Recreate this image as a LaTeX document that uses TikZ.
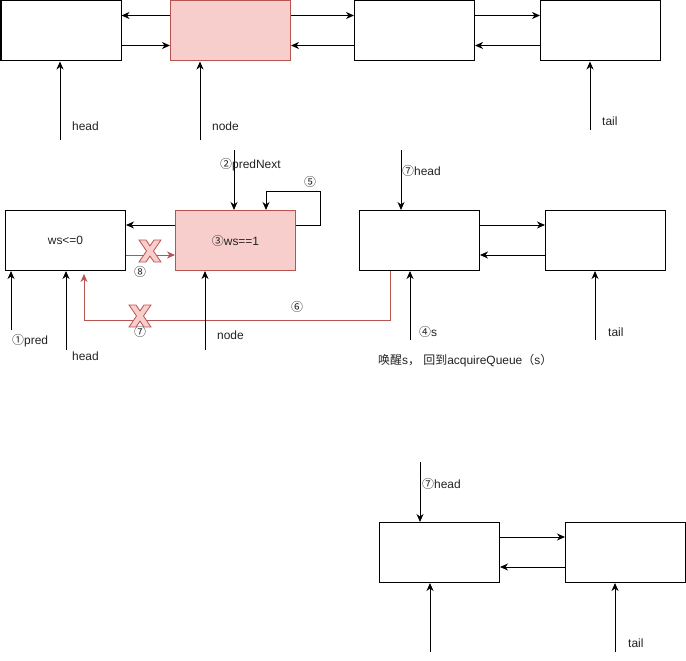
\documentclass[tikz,border=0pt]{standalone}
\usepackage{fontspec}
\setmainfont{Liberation Sans}
\newfontfamily\cjk{Noto Sans CJK SC}
\usetikzlibrary{arrows.meta}
\definecolor{rfill}{HTML}{F8CECC}
\definecolor{rline}{HTML}{B85450}
\definecolor{txt}{HTML}{222222}
\begin{document}
\begin{tikzpicture}[x=1bp,y=-1bp,
  font=\fontsize{12}{14}\selectfont,
  box/.style={draw,line width=1bp,minimum width=120bp,minimum height=60bp,inner sep=0,anchor=north west,text=txt},
  redbox/.style={box,draw=rline,fill=rfill},
  arr/.style={line width=1bp,-{Stealth[length=8bp,width=7bp,inset=2.5bp]}},
  rarr/.style={arr,draw=rline,color=rline},
  lbl/.style={inner sep=0,anchor=west,text=txt},
  num/.style={inner sep=0,text=txt,font=\fontsize{12}{14}\selectfont\cjk},
  xmark/.pic={\filldraw[fill=rfill,draw=rline,line width=0.8bp]
    (-11,-11) -- (-4,-11) -- (0,-5.1) -- (4,-11) -- (11,-11) -- (3.5,0) --
    (11,11) -- (4,11) -- (0,5.1) -- (-4,11) -- (-11,11) -- (-3.5,0) -- cycle;}
]
\useasboundingbox (0,0) rectangle (686,661);

% ---------- top row ----------
\node[box] (a1) at (0.5,0.5) {};
\node[redbox] (r1) at (170,0.5) {};
\node[box] (c1) at (354,0.5) {};
\node[box] (d1) at (540,0.5) {};
\draw[arr] ([yshift=-15bp]r1.north west) -- ([yshift=-15bp]a1.north east);
\draw[arr] ([yshift=-45bp]a1.north east) -- ([yshift=-45bp]r1.north west);
\draw[arr] ([yshift=-15bp]r1.north east) -- ([yshift=-15bp]c1.north west);
\draw[arr] ([yshift=-45bp]c1.north west) -- ([yshift=-45bp]r1.north east);
\draw[arr] ([yshift=-15bp]c1.north east) -- ([yshift=-15bp]d1.north west);
\draw[arr] ([yshift=-45bp]d1.north west) -- ([yshift=-45bp]c1.north east);
\coordinate (ph1) at (60,140);
\draw[arr] (ph1) -- (ph1 |- a1.south);
\node[lbl] (th1) at (72,126) {head};
\coordinate (pn1) at (200,140);
\draw[arr] (pn1) -- (pn1 |- r1.south);
\node[lbl] (tn1) at (212,126) {node};
\coordinate (pt1) at (590,130);
\draw[arr] (pt1) -- (pt1 |- d1.south);
\node[lbl] (tt1) at (602,121) {tail};

% ---------- middle row ----------
\node[box] (a2) at (5,210) {ws<=0};
\node[redbox] (r2) at (175,210) {{\cjk ③}ws==1};
\node[box] (c2) at (359,210) {};
\node[box] (d2) at (545,210) {};
\draw[arr] ([yshift=-15bp]r2.north west) -- ([yshift=-15bp]a2.north east);
\draw[rarr] ([yshift=-45bp]a2.north east) -- ([yshift=-45bp]r2.north west);
\pic at (150,251) {xmark};
\node[num] (n8) at (140,272) {⑧};
\coordinate (pp) at (234,150);
\draw[arr] (pp) -- (pp |- r2.north);
\node[lbl] (tpn) at (220,165) {{\cjk ②}predNext};
\coordinate (lp) at (320,191);
\draw[arr] ([yshift=-15bp]r2.north east) -| (lp) -| ([xshift=-30bp]r2.north east);
\node[num] (n5) at (310,182) {⑤};
\coordinate (ph2) at (401,150);
\draw[arr] (ph2) -- (ph2 |- c2.north);
\node[lbl] (th2) at (402,171) {{\cjk ⑦}head};
\draw[arr] ([yshift=-15bp]c2.north east) -- ([yshift=-15bp]d2.north west);
\draw[arr] ([yshift=-45bp]d2.north west) -- ([yshift=-45bp]c2.north east);

\coordinate (pr) at (11,330);
\draw[arr] (pr) -- (pr |- a2.south);
\node[lbl] (tpr) at (12,341) {{\cjk ①}pred};
\coordinate (ph3) at (66,350);
\draw[arr] (ph3) -- (ph3 |- a2.south);
\node[lbl] (th3) at (72,356) {head};
\coordinate (rc) at (84,320);
\draw[rarr,shorten >=3bp] ([xshift=31bp]c2.south west) |- (rc) -- (rc |- a2.south);
\pic at (140,316) {xmark};
\node[num] (n7) at (140,332) {⑦};
\node[num] (n6) at (297,307) {⑥};
\coordinate (pn2) at (205,350);
\draw[arr] (pn2) -- (pn2 |- r2.south);
\node[lbl] (tn2) at (217,335) {node};
\coordinate (ps) at (410,340);
\draw[arr] (ps) -- (ps |- c2.south);
\node[lbl] (tps) at (419,332) {{\cjk ④}s};
\coordinate (pt2) at (595,340);
\draw[arr] (pt2) -- (pt2 |- d2.south);
\node[lbl] (tt2) at (608,332) {tail};
\node[lbl] (note) at (378,361) {{\cjk 唤醒}s{\cjk ，} {\cjk 回到}acquireQueue{\cjk （}s{\cjk ）}};

% ---------- bottom row ----------
\node[box] (c3) at (379,522) {};
\node[box] (d3) at (565,522) {};
\coordinate (ph4) at (420,462);
\draw[arr] (ph4) -- (ph4 |- c3.north);
\node[lbl] (th4) at (422,484) {{\cjk ⑦}head};
\draw[arr] ([yshift=-15bp]c3.north east) -- ([yshift=-15bp]d3.north west);
\draw[arr] ([yshift=-45bp]d3.north west) -- ([yshift=-45bp]c3.north east);
\coordinate (ps3) at (430,652);
\draw[arr] (ps3) -- (ps3 |- c3.south);
\coordinate (pt3) at (615,652);
\draw[arr] (pt3) -- (pt3 |- d3.south);
\node[lbl] (tt3) at (628,643) {tail};
\end{tikzpicture}
\end{document}
